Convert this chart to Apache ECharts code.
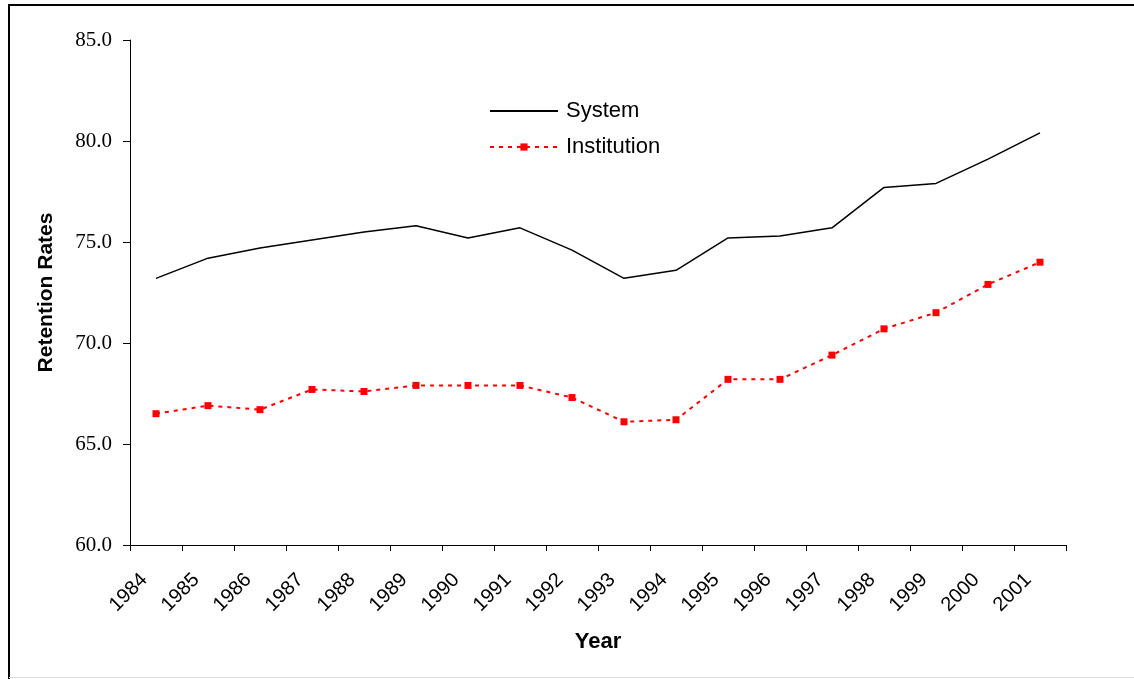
<!DOCTYPE html>
<html>
<head>
<meta charset="utf-8">
<script src="https://cdn.jsdelivr.net/npm/echarts@6/dist/echarts.min.js"></script>
<style>
	html, body { margin: 0; padding: 0; background: #fff; }
	#retentionChart { width: 1134px; height: 679px; }
</style>
</head>
<body>
<div id="retentionChart"></div>
<script>
// data
var years = ['1984', '1985', '1986', '1987', '1988', '1989', '1990', '1991', '1992',
	'1993', '1994', '1995', '1996', '1997', '1998', '1999', '2000', '2001'];
var systemRates = [73.2, 74.2, 74.7, 75.1, 75.5, 75.8, 75.2, 75.7, 74.6,
	73.2, 73.6, 75.2, 75.3, 75.7, 77.7, 77.9, 79.1, 80.4];
var institutionRates = [66.5, 66.9, 66.7, 67.7, 67.6, 67.9, 67.9, 67.9, 67.3,
	66.1, 66.2, 68.2, 68.2, 69.4, 70.7, 71.5, 72.9, 74.0];
var yTicks = [60, 65, 70, 75, 80, 85];

var myChart = echarts.init(document.getElementById('retentionChart'));
var option = {
	backgroundColor: '#fff',
	animation: false,
	graphic: [
		{
			type: 'polyline',
			shape: { points: [[9, 679], [9, 5], [1134, 5]] },
			style: { stroke: '#000', lineWidth: 2, fill: null }
		},
		{
			type: 'line',
			shape: { x1: 9, y1: 677.5, x2: 1134, y2: 677.5 },
			style: { stroke: '#ddd', lineWidth: 1 }
		}
	],
	grid: {
		left: 130,
		right: 68,
		top: 40,
		bottom: 134
	},
	legend: {
		orient: 'vertical',
		left: 484,
		top: 95,
		itemWidth: 68,
		itemHeight: 9,
		itemGap: 14,
		textStyle: {
			fontFamily: 'Liberation Sans',
			fontSize: 22,
			color: '#000',
			padding: [0, 0, 0, 3]
		},
		data: [
			{ name: 'System', itemStyle: { opacity: 0 } },
			{ name: 'Institution' }
		]
	},
	xAxis: {
		type: 'category',
		data: years,
		boundaryGap: true,
		name: 'Year',
		nameLocation: 'middle',
		nameGap: 86,
		nameTextStyle: {
			fontFamily: 'Liberation Sans',
			fontWeight: 'bold',
			fontSize: 22,
			color: '#000'
		},
		axisLine: { lineStyle: { color: '#000', width: 1 } },
		axisTick: { show: true, length: 6, alignWithLabel: false, lineStyle: { color: '#000' } },
		axisLabel: {
			rotate: 45,
			interval: 0,
			margin: 20,
			fontFamily: 'Liberation Sans',
			fontSize: 20,
			color: '#000',
			formatter: function (v) { return v + '   '; }
		},
		splitLine: { show: false }
	},
	yAxis: {
		type: 'value',
		min: yTicks[0],
		max: yTicks[yTicks.length - 1],
		interval: 5,
		name: 'Retention Rates',
		nameLocation: 'middle',
		nameGap: 73,
		nameTextStyle: {
			fontFamily: 'Liberation Sans',
			fontWeight: 'bold',
			fontSize: 21,
			color: '#000'
		},
		axisLine: { show: true, lineStyle: { color: '#000', width: 1 } },
		axisTick: { show: true, length: 7, lineStyle: { color: '#000' } },
		axisLabel: {
			margin: 18,
			fontFamily: 'Liberation Serif',
			fontSize: 21,
			color: '#000',
			formatter: function (v) { return v.toFixed(1); }
		},
		splitLine: { show: false }
	},
	series: [
		{
			name: 'System',
			type: 'line',
			data: systemRates,
			symbol: 'none',
			itemStyle: { color: '#000' },
			lineStyle: { color: '#000', width: 1.5 }
		},
		{
			name: 'Institution',
			type: 'line',
			data: institutionRates,
			symbol: 'rect',
			symbolSize: 7,
			itemStyle: { color: '#ff0000' },
			lineStyle: { color: '#ff0000', width: 2, type: [4, 5] }
		}
	]
};
myChart.setOption(option);
</script>
</body>
</html>
